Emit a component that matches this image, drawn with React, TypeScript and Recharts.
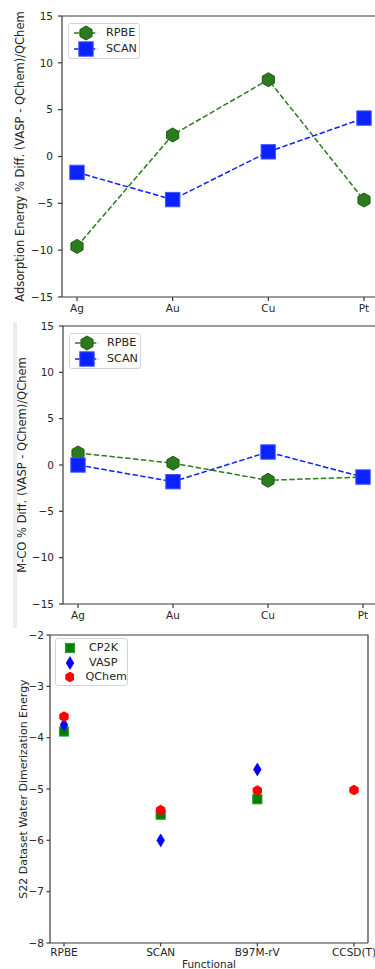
import { LineChart, Line, XAxis, YAxis, Legend } from 'recharts';

const metals = ['Ag', 'Au', 'Cu', 'Pt'];
const adsRpbe = [-9.6, 2.3, 8.2, -4.65];
const adsScan = [-1.7, -4.6, 0.5, 4.1];
const mcoRpbe = [1.3, 0.2, -1.65, -1.3];
const mcoScan = [0.0, -1.8, 1.4, -1.3];
const pctTicks = [-15, -10, -5, 0, 5, 10, 15];

const functionals = ['RPBE', 'SCAN', 'B97M-rV', 'CCSD(T)'];
const cp2k = [-3.88, -5.5, -5.2, null];
const vasp = [-3.75, -6.0, -4.62, null];
const qchem = [-3.59, -5.41, -5.03, -5.02];
const energyTicks = [-8, -7, -6, -5, -4, -3, -2];

const FONT = '"DejaVu Sans", sans-serif';
const INK = '#262626';
const SPINE = '#3a3a3a';
const GREEN = '#2c7a1e';
const GREEN_EDGE = '#1f5a14';
const BLUE = '#0a22ff';
const BLUE_EDGE = '#4455ff';

const hexPts = (cx: number, cy: number, r: number) =>
  [0, 1, 2, 3, 4, 5]
    .map((k) => {
      const a = ((-90 + 60 * k) * Math.PI) / 180;
      return `${cx + r * Math.cos(a)},${cy + r * Math.sin(a)}`;
    })
    .join(' ');

type Mark = 'hex' | 'square' | 'diamond';

function Marker({ kind, cx, cy, size, fill, edge }: { kind: Mark; cx: number; cy: number; size: number; fill: string; edge: string }) {
  if (kind === 'hex') return <polygon points={hexPts(cx, cy, size)} fill={fill} stroke={edge} strokeWidth={1} />;
  if (kind === 'square')
    return <rect x={cx - size} y={cy - size} width={size * 2} height={size * 2} fill={fill} stroke={edge} strokeWidth={1} />;
  const w = size * 0.6;
  return <polygon points={`${cx},${cy - size} ${cx + w},${cy} ${cx},${cy + size} ${cx - w},${cy}`} fill={fill} stroke={edge} strokeWidth={0.8} />;
}

const dotRenderer = (kind: Mark, size: number, fill: string, edge: string) => (p: any) => {
  if (p.cy == null || p.value == null) return <g key={p.index} />;
  return (
    <g key={p.index}>
      <Marker kind={kind} cx={p.cx} cy={p.cy} size={size} fill={fill} edge={edge} />
    </g>
  );
};

const metalSeries = [
  { name: 'RPBE', key: 'rpbe', kind: 'hex' as Mark, size: 7, fill: GREEN, edge: GREEN_EDGE },
  { name: 'SCAN', key: 'scan', kind: 'square' as Mark, size: 7.2, fill: BLUE, edge: BLUE_EDGE },
];

const codeSeries = [
  { name: 'CP2K', key: 'cp2k', kind: 'square' as Mark, size: 4.6, fill: '#008000', edge: '#2f9a2f' },
  { name: 'VASP', key: 'vasp', kind: 'diamond' as Mark, size: 6.3, fill: '#0000ff', edge: '#0000ff' },
  { name: 'QChem', key: 'qchem', kind: 'hex' as Mark, size: 4.8, fill: '#ff0000', edge: '#ff0000' },
];

const legendBox = {
  border: '1px solid #d4d4d4',
  borderRadius: 3,
  background: 'rgba(255,255,255,0.85)',
  boxSizing: 'border-box' as const,
  fontFamily: FONT,
  fontSize: 11.2,
  color: INK,
};

function MetalLegend() {
  return (
    <div style={{ ...legendBox, width: 72, height: 36, padding: '1px 0 0 4px' }}>
      {metalSeries.map((s) => (
        <div key={s.name} style={{ display: 'flex', alignItems: 'center', height: 16 }}>
          <svg width={26} height={16}>
            <line x1={1} y1={8} x2={25} y2={8} stroke={s.fill} strokeWidth={1.5} strokeDasharray="5.5 2.4" />
            <Marker kind={s.kind} cx={13} cy={8} size={s.size} fill={s.fill} edge={s.edge} />
          </svg>
          <span style={{ marginLeft: 7, lineHeight: '16px' }}>{s.name}</span>
        </div>
      ))}
    </div>
  );
}

function CodeLegend() {
  return (
    <div style={{ ...legendBox, width: 73, height: 48, padding: '2px 0 0 7px' }}>
      {codeSeries.map((s) => (
        <div key={s.name} style={{ display: 'flex', alignItems: 'center', height: 14.5 }}>
          <svg width={14} height={14}>
            <Marker kind={s.kind} cx={7} cy={7} size={s.size} fill={s.fill} edge={s.edge} />
          </svg>
          <span style={{ marginLeft: 12, lineHeight: '14px' }}>{s.name}</span>
        </div>
      ))}
    </div>
  );
}

const tickStyle = { fontSize: 10.5, fill: INK, fontFamily: FONT };
const labelStyle = { fontSize: 11.5, fill: INK, fontFamily: FONT, textAnchor: 'middle' as const };
const minus = (v: number) => String(v).replace('-', '\u2212');
const spineLine = { stroke: SPINE, strokeWidth: 1.2 };

// panel geometry: chart box, margins and axis sizes; the frame's top/right edges follow from them
type Box = { top: number; width: number; height: number; margin: { top: number; right: number; bottom: number; left: number }; yW: number; xH: number };

const adsBox: Box = { top: 0, width: 390, height: 320, margin: { top: 16, right: 11, bottom: 0, left: 0 }, yW: 62, xH: 23 };
const mcoBox: Box = { top: 310, width: 390, height: 320, margin: { top: 16, right: 12, bottom: 3, left: 0 }, yW: 63, xH: 23 };
const s22Box: Box = { top: 620, width: 375, height: 349, margin: { top: 15, right: 7, bottom: 0, left: 0 }, yW: 50, xH: 26 };

function framePath(b: Box) {
  const l = b.margin.left + b.yW;
  const r = b.width - b.margin.right;
  const t = b.top + b.margin.top;
  const btm = b.top + b.height - b.margin.bottom - b.xH;
  return `M${l},${t} L${r},${t} L${r},${btm}`;
}

function Frames() {
  return (
    <svg width={375} height={969} style={{ position: 'absolute', left: 0, top: 0, pointerEvents: 'none' }}>
      {[adsBox, mcoBox, s22Box].map((b) => (
        <path key={b.top} d={framePath(b)} fill="none" stroke={SPINE} strokeWidth={1.2} />
      ))}
    </svg>
  );
}

function MetalPanel({ rpbe, scan, ylabel, b, labelOffset }: any) {
  const data = metals.map((m, i) => ({ name: m, rpbe: rpbe[i], scan: scan[i] }));
  return (
    <LineChart width={b.width} height={b.height} data={data} margin={b.margin}>
      <XAxis
        dataKey="name"
        padding={{ left: 15, right: 15 }}
        tick={tickStyle}
        tickSize={4}
        tickMargin={4}
        height={b.xH}
        axisLine={spineLine}
        tickLine={spineLine}
      />
      <YAxis
        domain={[-15, 15]}
        ticks={pctTicks}
        tick={tickStyle}
        tickSize={4}
        tickMargin={5}
        width={b.yW}
        axisLine={spineLine}
        tickLine={spineLine}
        tickFormatter={minus}
        label={{ value: ylabel, angle: -90, position: 'insideLeft', offset: labelOffset, style: labelStyle }}
      />
      <Legend layout="vertical" align="center" verticalAlign="middle" wrapperStyle={{ left: b.yW + 6, top: 23, width: 'auto', height: 'auto' }} content={() => <MetalLegend />} />
      {metalSeries.map((s) => (
        <Line
          key={s.key}
          type="linear"
          dataKey={s.key}
          name={s.name}
          stroke={s.fill}
          strokeWidth={1.5}
          strokeDasharray="5.5 2.4"
          dot={dotRenderer(s.kind, s.size, s.fill, s.edge)}
          activeDot={false}
          isAnimationActive={false}
        />
      ))}
    </LineChart>
  );
}

function EnergyPanel({ b }: { b: Box }) {
  const data = functionals.map((f, i) => ({ name: f, cp2k: cp2k[i], vasp: vasp[i], qchem: qchem[i] }));
  return (
    <LineChart width={b.width} height={b.height} data={data} margin={b.margin}>
      <XAxis
        dataKey="name"
        padding={{ left: 14, right: 14 }}
        tick={tickStyle}
        tickSize={3.5}
        tickMargin={2.5}
        height={b.xH}
        axisLine={spineLine}
        tickLine={spineLine}
        label={{ value: 'Functional', position: 'insideBottom', offset: 1, style: { ...labelStyle, fontSize: 10.5 } }}
      />
      <YAxis
        domain={[-8, -2]}
        ticks={energyTicks}
        tick={tickStyle}
        tickSize={3.5}
        tickMargin={2.5}
        width={b.yW}
        axisLine={spineLine}
        tickLine={spineLine}
        tickFormatter={minus}
        label={{ value: 'S22 Dataset Water Dimerization Energy', angle: -90, position: 'insideLeft', offset: 23, style: { ...labelStyle, fontSize: 11 } }}
      />
      <Legend layout="vertical" align="center" verticalAlign="middle" wrapperStyle={{ left: 55, top: 18, width: 'auto', height: 'auto' }} content={() => <CodeLegend />} />
      {codeSeries.map((s) => (
        <Line
          key={s.key}
          type="linear"
          dataKey={s.key}
          name={s.name}
          stroke="none"
          dot={dotRenderer(s.kind, s.size, s.fill, s.edge)}
          activeDot={false}
          isAnimationActive={false}
        />
      ))}
    </LineChart>
  );
}

export default function App() {
  return (
    <div style={{ position: 'absolute', left: 0, top: 0, width: 375, height: 969, overflow: 'hidden', background: '#fff', fontFamily: FONT }}>
      <div style={{ position: 'absolute', left: 0, top: adsBox.top, width: adsBox.width, height: adsBox.height }}>
        <MetalPanel rpbe={adsRpbe} scan={adsScan} ylabel="Adsorption Energy % Diff. (VASP - QChem)/QChem" b={adsBox} labelOffset={20} />
      </div>
      <div style={{ position: 'absolute', left: 0, top: mcoBox.top, width: mcoBox.width, height: 318, overflow: 'hidden' }}>
        <MetalPanel rpbe={mcoRpbe} scan={mcoScan} ylabel="M-CO % Diff. (VASP - QChem)/QChem" b={mcoBox} labelOffset={21.5} />
      </div>
      <div style={{ position: 'absolute', left: 0, top: s22Box.top, width: s22Box.width, height: s22Box.height }}>
        <EnergyPanel b={s22Box} />
      </div>
      <Frames />
      <div style={{ position: 'absolute', left: 13, top: 322, width: 4, height: 306, background: '#ececec' }} />
    </div>
  );
}
